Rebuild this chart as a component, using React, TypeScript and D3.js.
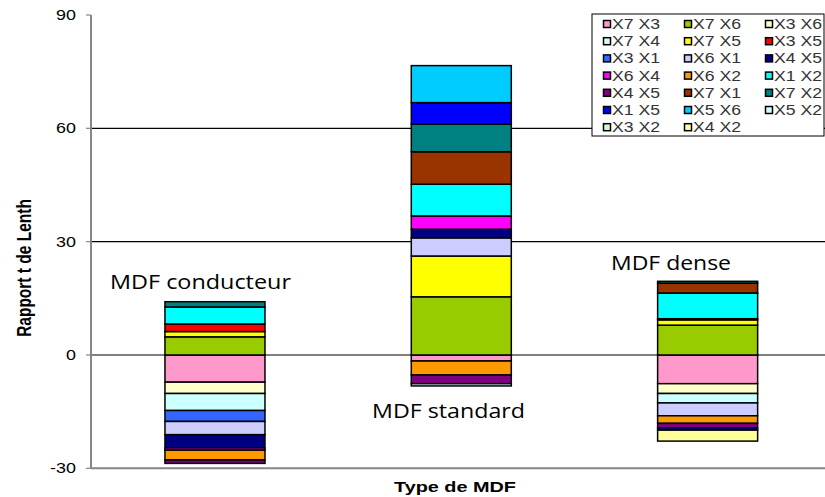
import React from "react";
import * as d3 from "d3";

const categories = ["MDF conducteur", "MDF standard", "MDF dense"];
const seriesNames = [
  "X7 X3", "X7 X6", "X3 X6", "X7 X4", "X7 X5", "X3 X5", "X3 X1",
  "X6 X1", "X4 X5", "X6 X4", "X6 X2", "X1 X2", "X4 X5", "X7 X1",
  "X7 X2", "X1 X5", "X5 X6", "X5 X2", "X3 X2", "X4 X2",
];
const seriesColors = [
  "#FF99CC", "#99CC00", "#FFFFCC", "#CCFFFF", "#FFFF00", "#FF0000", "#3366FF",
  "#CCCCFF", "#000080", "#FF00FF", "#FF9900", "#00FFFF", "#800080", "#993300",
  "#008080", "#0000FF", "#00CCFF", "#CCFFFF", "#CCFFCC", "#FFFF99",
];
// values per series: [conducteur, standard, dense]
const seriesValues: number[][] = [
  [-7.2, -1.6, -7.6],
  [4.8, 15.4, 7.9],
  [-3.0, 0, -2.6],
  [-4.5, 0, -2.5],
  [1.4, 10.8, 1.4],
  [2.0, 0, 0.3],
  [-2.9, 0, 0],
  [-3.5, 4.8, -3.4],
  [-3.5, 2.3, 0],
  [-0.6, 3.5, 0],
  [-2.6, -3.7, -2.0],
  [4.5, 8.4, 6.8],
  [-0.9, -2.3, -1.2],
  [0, 8.6, 2.6],
  [1.4, 7.3, 0.5],
  [0, 5.7, -0.6],
  [0, 9.8, 0],
  [0, -0.6, 0],
  [0, 0, 0],
  [0, 0, -2.9],
];
const yTicks = [-30, 0, 30, 60, 90];
const gridValues = [0, 30, 60];
const annotations = [
  { text: "MDF conducteur", x: 200.5, y: 289, len: 181 },
  { text: "MDF standard", x: 448.5, y: 418, len: 153 },
  { text: "MDF dense", x: 671, y: 270, len: 120 },
];

const W = 825;
const H = 497;
const SX = 1.28; // horizontal stretch of the reference's text

export default function App() {
  const x = d3.scaleBand<string>().domain(categories).range([91.8, 830.8]).paddingInner(0.594).paddingOuter(0.297);
  const y = d3.scaleLinear().domain([-30, 90]).range([468.3, 15]);

  const keys = seriesNames.map((_, i) => "s" + i);
  const rows = categories.map((c, ci) => {
    const r: any = { cat: c };
    keys.forEach((k, si) => (r[k] = seriesValues[si][ci]));
    return r;
  });
  const stacked = d3.stack<any>().keys(keys).order(d3.stackOrderNone).offset(d3.stackOffsetDiverging)(rows);

  const bw = x.bandwidth();
  const font = "'Liberation Sans', Arial, sans-serif";

  const legX = 592, legY = 14, legW = 232, legH = 122;
  const colW = 81, rowH = 17.2;

  return (
    <div style={{ position: "absolute", left: 0, top: 0 }}>
      <svg width={W} height={H} style={{ display: "block", background: "#fff" }}>
        {gridValues.map((v) => (
          <line key={"g" + v} x1={91} x2={W} y1={y(v)} y2={y(v)} stroke="#000" strokeWidth={1.2} />
        ))}
        {stacked.map((layer, si) =>
          layer.map((d, ci) => {
            const y0 = Math.min(y(d[0]), y(d[1]));
            const h = Math.abs(y(d[0]) - y(d[1]));
            if (seriesValues[si][ci] === 0) return null;
            return (
              <rect key={si + "-" + ci} x={x(categories[ci])!} y={y0} width={bw} height={h}
                fill={seriesColors[si]} stroke="#000" strokeWidth={1.5} />
            );
          })
        )}
        <line x1={91} x2={91} y1={y(90)} y2={y(-30)} stroke="#868686" strokeWidth={2} />
        <line x1={91} x2={W} y1={y(-30)} y2={y(-30)} stroke="#868686" strokeWidth={2} />
        {yTicks.map((t) => (
          <g key={"t" + t}>
            <line x1={86} x2={91} y1={y(t)} y2={y(t)} stroke="#868686" strokeWidth={1.2} />
            <text transform={`translate(76,${y(t)}) scale(${SX},1)`} dy="0.36em" textAnchor="end" fontFamily={font} fontSize={14} fill="#000">{t}</text>
          </g>
        ))}
        <text transform={`translate(31,268) rotate(-90) scale(1,${SX})`} textAnchor="middle" fontFamily={font} fontSize={15.5} fontWeight="bold">Rapport t de Lenth</text>
        <text transform={`translate(455,492) scale(${SX},1)`} textAnchor="middle" fontFamily={font} fontSize={15.5} fontWeight="bold">Type de MDF</text>
        {annotations.map((a) => (
          <text key={a.text} x={a.x} y={a.y} textAnchor="middle" fontFamily="'Open Sans', sans-serif" fontSize={20} fill="#000"
            textLength={a.len} lengthAdjust="spacingAndGlyphs">{a.text}</text>
        ))}
        <rect x={legX} y={legY} width={legW} height={legH} fill="#fff" stroke="#000" strokeWidth={1} />
        {seriesNames.map((n, i) => {
          const col = i % 3;
          const row = Math.floor(i / 3);
          const cx = legX + 11.5 + col * colW;
          const cy = legY + 10 + row * rowH;
          return (
            <g key={"l" + i}>
              <rect x={cx} y={cy - 3.5} width={7} height={7} fill={seriesColors[i]} stroke="#000" strokeWidth={1.5} />
              <text x={cx + 8.5} y={cy} dy="0.36em" fontFamily={font} fontSize={14} fill="#333"
                textLength={48} lengthAdjust="spacingAndGlyphs">{n}</text>
            </g>
          );
        })}
      </svg>
    </div>
  );
}
